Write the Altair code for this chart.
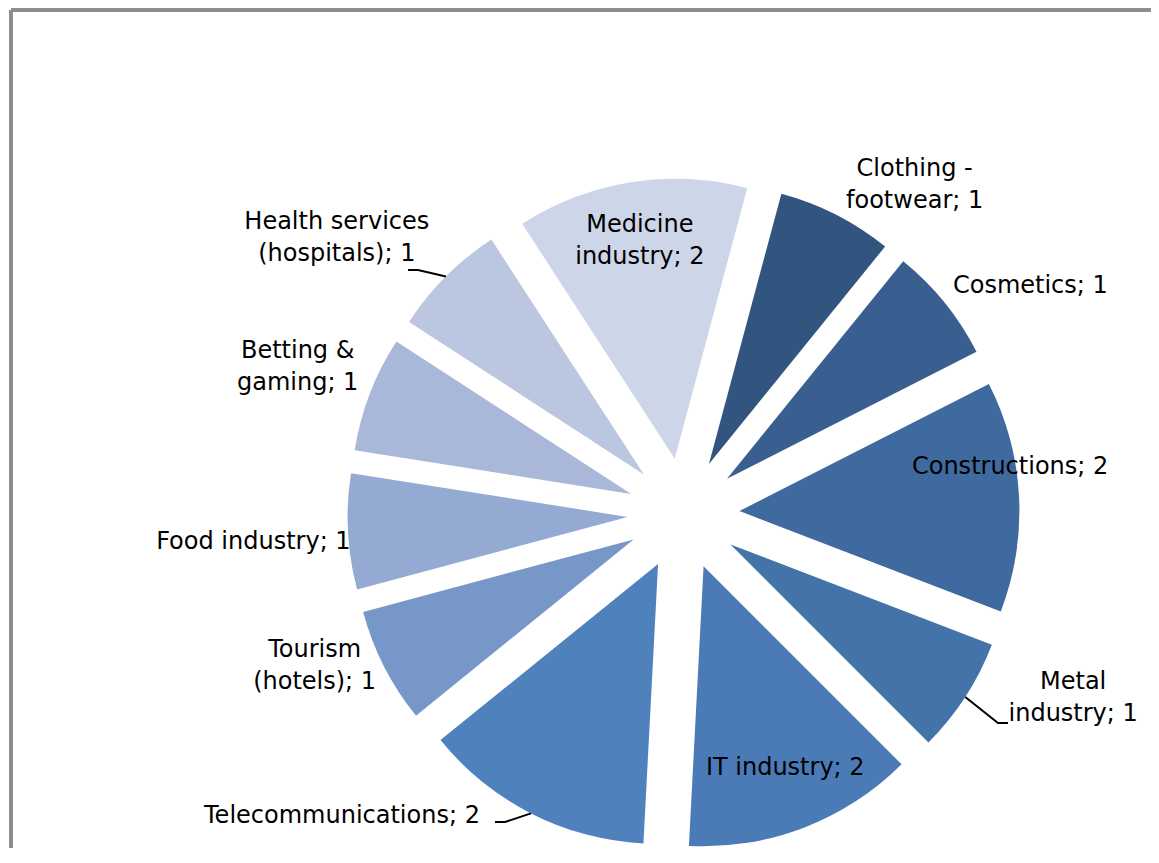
import math
import numpy as np
import pandas as pd
import altair as alt

# ---------------- data ----------------
categories = ["Clothing - footwear", "Cosmetics", "Constructions", "Metal industry",
              "IT industry", "Telecommunications", "Tourism (hotels)", "Food industry",
              "Betting & gaming", "Health services (hospitals)", "Medicine industry"]
values = [1, 1, 2, 1, 2, 2, 1, 1, 1, 1, 2]
# how each category name is wrapped in its data label
label_names = ["Clothing -\nfootwear", "Cosmetics", "Constructions", "Metal\nindustry",
               "IT industry", "Telecommunications", "Tourism\n(hotels)", "Food industry",
               "Betting &\ngaming", "Health services\n(hospitals)", "Medicine\nindustry"]

# ---------------- style / layout ----------------
colors = ["#31557F", "#395F91", "#3F6A9F", "#4473AA", "#4A7BB7", "#4F81BD",
          "#7697C8", "#94AAD3", "#A9B8D9", "#BBC7E0", "#CDD6E8"]
W, H = 1143, 840
CX, CY = 675.5, 506          # pie centre inside the plot area (px)
START_DEG = 15               # angle of first slice
EXPLODE = 56                 # radial explosion (px)
RADIUS = 280
FONT = "DejaVu Sans"
FONT_SIZE = 24
LINE_H = 32
# label anchors: polar angle (deg, clockwise from top) and distance from pie centre
label_angle = [35.1, 56.7, 81.8, 115.3, 158.2, 228.5, 247.6, 266.3, 290.9, 308.5, 350.9]
label_dist = [402, 415, 330, 431, 274, 456, 399, 431, 413, 443, 276]
# leader lines: elbow offsets (px, y up) and horizontal tail direction
leaders = {
    "Health services (hospitals)": ((-265.5, 244), -10),
    "Metal industry": ((314.5, -209), 10),
    "Telecommunications": ((-178.5, -308), -10),
}

total = sum(values)
cum = np.cumsum(values)
start = cum - np.array(values)
start_rad = math.radians(START_DEG)
mid = start_rad + (start + cum) / 2 / total * 2 * math.pi

n_lines = [n.count("\n") + 1 for n in label_names]
df = pd.DataFrame({
    "category": categories,
    "value": values,
    "start": start,
    "end": cum,
    "sx": EXPLODE * np.sin(mid),
    "sy": EXPLODE * np.cos(mid),
    "label": [f"{n}; {v}" for n, v in zip(label_names, values)],
    "lx": [d * math.sin(math.radians(a)) for a, d in zip(label_angle, label_dist)],
    # multi-line text starts at the anchor: lift it so the block is centred
    "ly": [d * math.cos(math.radians(a)) + (k - 1) * LINE_H / 2
           for a, d, k in zip(label_angle, label_dist, n_lines)],
})

rows = []
for cat, ((ex, ey), tail) in leaders.items():
    i = categories.index(cat)
    r = EXPLODE + RADIUS
    rows.append({"category": cat, "pt": 0, "x": r * math.sin(mid[i]), "y": r * math.cos(mid[i])})
    rows.append({"category": cat, "pt": 1, "x": ex, "y": ey})
    rows.append({"category": cat, "pt": 2, "x": ex + tail, "y": ey})
lead_df = pd.DataFrame(rows)

xs = alt.Scale(domain=[-CX, W - CX], nice=False, zero=False)
ys = alt.Scale(domain=[-(H - CY), CY], nice=False, zero=False)
ts = alt.Scale(domain=[0, total], range=[start_rad, start_rad + 2 * math.pi])

arcs = alt.Chart(df).mark_arc(radius=RADIUS).encode(
    x=alt.X("sx:Q", scale=xs, axis=None),
    y=alt.Y("sy:Q", scale=ys, axis=None),
    theta=alt.Theta("start:Q", scale=ts, stack=None),
    theta2="end:Q",
    color=alt.Color("category:N", scale=alt.Scale(domain=categories, range=colors), legend=None),
)

texts = alt.Chart(df).mark_text(
    font=FONT, fontSize=FONT_SIZE, lineHeight=LINE_H, lineBreak="\n",
    align="center", baseline="middle", color="#000000"
).encode(
    x=alt.X("lx:Q", scale=xs, axis=None),
    y=alt.Y("ly:Q", scale=ys, axis=None),
    text="label:N",
)

lines = alt.Chart(lead_df).mark_line(color="#000000", strokeWidth=2).encode(
    x=alt.X("x:Q", scale=xs, axis=None),
    y=alt.Y("y:Q", scale=ys, axis=None),
    detail="category:N",
    order="pt:Q",
)

border_top = alt.Chart(df).mark_rule(color="#8c8c8c", strokeWidth=2.5).encode(
    x=alt.value(3), x2=alt.value(W), y=alt.value(2))
border_left = alt.Chart(df).mark_rule(color="#8c8c8c", strokeWidth=2.5).encode(
    x=alt.value(3), y=alt.value(2), y2=alt.value(H + 10))

chart = alt.layer(border_top, border_left, arcs, lines, texts).properties(
    width=W, height=H, padding=0, autosize=alt.AutoSizeParams(type="none")
).configure_view(strokeWidth=0)

chart.save("out.html", embed_options={"renderer": "svg", "actions": False})
